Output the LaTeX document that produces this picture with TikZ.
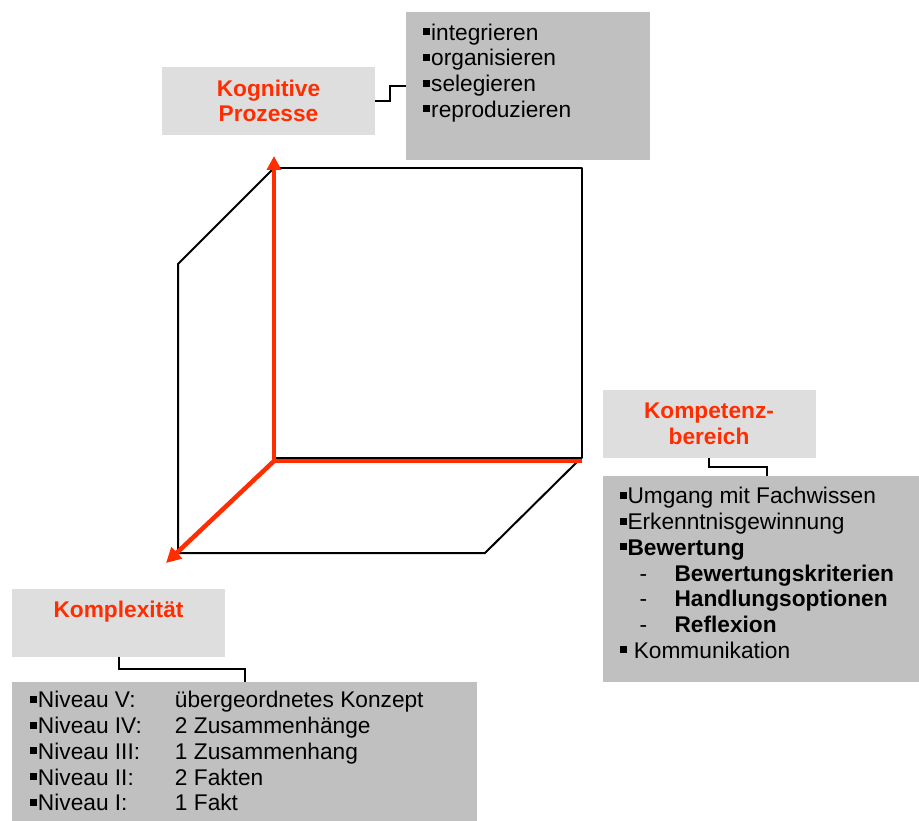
\documentclass[tikz,border=0pt]{standalone}
\usepackage{fontspec}
\setmainfont{Liberation Sans}
\usepackage{xcolor}
\usetikzlibrary{arrows.meta}
\usetikzlibrary{positioning}
\definecolor{kred}{RGB}{255,45,0}
\definecolor{headgray}{RGB}{222,222,222}
\definecolor{listgray}{RGB}{192,192,192}
\newcommand{\bul}{\rule[5pt]{7pt}{7pt}\hspace{1pt}}
\tikzset{
    head/.style={
           rectangle,
           fill=headgray,
           minimum width=213pt,
           minimum height=68pt,
           inner sep=0pt,
           text=kred,
           font=\fontsize{22.7}{25.7}\selectfont\bfseries,
           align=center,
           },
    liste/.style={
           rectangle,
           fill=listgray,
           inner sep=0pt,
           font=\fontsize{22.7}{25.7}\selectfont,
           },
    link/.style={
           draw=black,
           line width=2pt,
           },
    cubeline/.style={
           draw=black,
           line width=2pt,
           line join=round,
           },
    axis/.style={
           draw=kred,
           line width=4.5pt,
           },
}

\begin{document}
\begin{tikzpicture}[x=1pt,y=-1pt]
	\useasboundingbox (0,0) rectangle (919,821);
	\clip (0,0) rectangle (919,821);

	%headings
	\node[head] (kog) at (268.5,101) {Kognitive\\Prozesse};
	\node[head] (kmp) at (709,424) {Kompetenz-\\bereich};
	\node[head] (kpx) at (118.5,622.5) {Komplexit\"at\\\phantom{Prozesse}};

	%lists
	\node[liste, anchor=north west] (kogList) at (406,12) {\parbox[c][148pt][t]{244pt}{%
		\setlength{\leftskip}{17pt}\rule{0pt}{28pt}\bul integrieren\\
		\bul organisieren\\
		\bul selegieren\\
		\bul reproduzieren}};
	\node[liste, below right=18pt and 0pt of kmp.south west] (kmpList) {\parbox[c][206pt][t]{328pt}{%
		\setlength{\leftskip}{17pt}\rule{0pt}{27.5pt}\bul Umgang mit Fachwissen\\
		\bul Erkenntnisgewinnung\\
		\bul\textbf{Bewertung}\\
		\hspace*{20pt}\makebox[35pt][l]{-}\textbf{Bewertungskriterien}\\
		\hspace*{20pt}\makebox[35pt][l]{-}\textbf{Handlungsoptionen}\\
		\hspace*{20pt}\makebox[35pt][l]{-}\textbf{Reflexion}\\
		\bul\ Kommunikation}};
	\node[liste, below right=25pt and 0pt of kpx.south west] (kpxList) {\parbox[c][160pt][t]{465pt}{%
		\setlength{\leftskip}{18pt}\rule{0pt}{26pt}\makebox[145pt][l]{\bul Niveau V:}\"ubergeordnetes Konzept\\
		\makebox[145pt][l]{\bul Niveau IV:}2 Zusammenh\"ange\\
		\makebox[145pt][l]{\bul Niveau III:}1 Zusammenhang\\
		\makebox[145pt][l]{\bul Niveau II:}2 Fakten\\
		\makebox[145pt][l]{\bul Niveau I:}1 Fakt}};

	%cube
	\coordinate (ftl) at (274,168);
	\coordinate (fbr) at (582,458);
	\coordinate (btl) at (178,264);
	\coordinate (bbl) at (178,553);
	\coordinate (bbr) at (485,553);
	\coordinate (o) at (274,461);
	\draw[cubeline] (ftl) rectangle (fbr);
	\draw[cubeline] (ftl) -- (btl) -- (bbl) -- (bbr) -- (578,461);

	\draw[axis, {Triangle[length=14pt,width=14pt]}-] (274,156) -- (o) -- (582,461);
	\draw[axis, -{Triangle[length=15pt,width=15pt]}] (o) -- (166,563);

	%EDGES
	\draw[link] (kog.east) -- ++(15pt,0pt) |- (kogList.west);
	\draw[link] (kmp.south) -- ++(0pt,-9pt) -| (kmpList.north);
	\draw[link] (kpx.south) -- ++(0pt,-12pt) -| (kpxList.north);
\end{tikzpicture}
\end{document}
